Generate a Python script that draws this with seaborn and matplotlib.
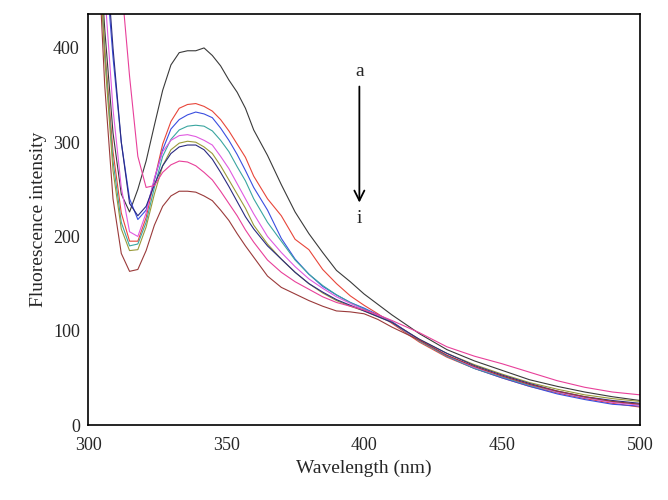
import matplotlib
matplotlib.use("Agg")
import matplotlib.pyplot as plt
import numpy as np
import pandas as pd
import seaborn as sns

wavelength = [300, 303, 306, 309, 312, 315, 318, 321, 324, 327, 330, 333, 336, 339, 342,
              345, 348, 351, 354, 357, 360, 365, 370, 375, 380, 385, 390, 395, 400, 405,
              410, 420, 430, 440, 450, 460, 470, 480, 490, 500]

curve_a = [900, 560, 420, 310, 245, 226, 250, 280, 318, 355, 382, 395, 397, 397, 400,
           392, 381, 366, 353, 336, 313, 286, 255, 226, 203, 183, 164, 152, 139, 128,
           117, 97, 80, 68, 58, 48, 41, 35, 30, 26]
curve_b = [800, 560, 400, 290, 225, 195, 195, 220, 260, 298, 322, 336, 340, 341, 338,
           333, 324, 312, 298, 284, 264, 240, 222, 197, 186, 165, 150, 137, 127, 118,
           108, 88, 72, 60, 50, 41, 34, 28, 23, 19]
curve_c = [900, 650, 500, 390, 300, 240, 218, 228, 260, 292, 314, 324, 329, 332, 330,
           326, 315, 302, 287, 270, 252, 228, 198, 176, 160, 147, 138, 130, 124, 117,
           110, 90, 73, 60, 50, 41, 33, 27, 22, 20]
curve_d = [800, 560, 395, 280, 215, 190, 192, 215, 252, 285, 303, 313, 317, 318, 317,
           312, 302, 290, 274, 259, 240, 215, 195, 175, 160, 148, 138, 130, 123, 116,
           109, 89, 73, 60, 51, 42, 35, 29, 25, 22]
curve_e = [850, 620, 460, 335, 252, 205, 200, 225, 262, 290, 302, 307, 308, 306, 302,
           297, 285, 272, 256, 240, 224, 200, 183, 168, 155, 145, 136, 129, 122, 116,
           109, 90, 74, 61, 52, 43, 35, 29, 24, 21]
curve_f = [800, 560, 390, 270, 208, 185, 186, 210, 245, 275, 292, 299, 301, 300, 295,
           288, 275, 260, 245, 230, 212, 192, 176, 162, 150, 140, 132, 126, 121, 115,
           109, 91, 76, 64, 54, 45, 38, 32, 28, 25]
curve_g = [900, 680, 520, 400, 300, 235, 222, 232, 255, 275, 288, 295, 297, 297, 292,
           282, 268, 253, 237, 221, 208, 190, 176, 162, 150, 141, 133, 127, 121, 115,
           109, 91, 76, 63, 53, 44, 36, 30, 26, 23]
curve_h = [1000, 900, 750, 600, 470, 370, 285, 252, 254, 268, 276, 280, 279, 275, 268,
           260, 248, 235, 222, 207, 194, 175, 162, 152, 144, 136, 130, 126, 122, 117,
           111, 98, 83, 73, 65, 56, 47, 40, 35, 32]
curve_i = [800, 540, 360, 240, 182, 163, 165, 185, 212, 232, 243, 248, 248, 247, 243,
           238, 228, 217, 203, 190, 178, 158, 146, 139, 132, 126, 121, 120, 118, 112,
           104, 90, 74, 62, 52, 43, 36, 30, 25, 22]

labels = ["a", "b", "c", "d", "e", "f", "g", "h", "i"]
series = [curve_a, curve_b, curve_c, curve_d, curve_e, curve_f, curve_g, curve_h, curve_i]
colors = ["#3a3a3a", "#e8463a", "#3a4ee0", "#3aa6a0", "#e05ae0", "#9a9a3a",
          "#2a2a80", "#e8409a", "#9a3a3a"]

df = pd.concat([pd.DataFrame({"Wavelength": wavelength, "Intensity": s, "curve": l})
                for l, s in zip(labels, series)], ignore_index=True)

sns.set_style("white")
plt.rcParams["font.family"] = ["Liberation Serif", "DejaVu Serif"]

fig = plt.figure(figsize=(6.68, 5), dpi=100)
ax = fig.add_axes([0.132, 0.15, 0.826, 0.822])
sns.lineplot(data=df, x="Wavelength", y="Intensity", hue="curve",
             palette=dict(zip(labels, colors)), linewidth=0.8, legend=False, ax=ax)

ax.set_xlim(300, 500)
ax.set_ylim(0, 436)
ax.set_xticks([300, 350, 400, 450, 500])
ax.set_yticks([0, 100, 200, 300, 400])
ax.tick_params(length=0, labelsize=13)
ax.tick_params(axis="x", pad=9)
ax.tick_params(axis="y", pad=6)
ax.set_xlabel("Wavelength (nm)", fontsize=14, labelpad=4)
ax.set_ylabel("Fluorescence intensity", fontsize=14, labelpad=4)
for sp in ax.spines.values():
    sp.set_color("black")
    sp.set_linewidth(1.2)

ax.text(398.3, 375, "a", ha="center", va="center", fontsize=14)
ax.annotate("", xy=(398.3, 233), xytext=(398.3, 362),
            arrowprops=dict(arrowstyle="->", color="black", lw=1.3,
                            mutation_scale=18))
ax.text(398.3, 219, "i", ha="center", va="center", fontsize=14)

fig.savefig("out.png", dpi=100)
